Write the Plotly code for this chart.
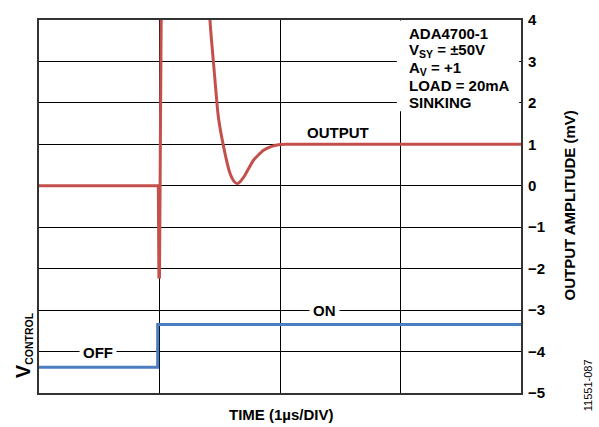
import plotly.graph_objects as go

# Output amplitude (mV) vs time (divisions of 1 µs)
spike_t = [0.0, 0.99, 0.995, 1.0, 1.015, 1.03]
spike_v = [0.0, 0.0, -2.2, -2.2, 4.5, 10.0]
ring_t = [1.03, 1.40, 1.419, 1.45, 1.488, 1.53, 1.585, 1.62, 1.646, 1.67, 1.71, 1.778, 1.86, 1.93, 1.986, 2.05, 2.5, 3.0, 3.5, 4.0]
ring_v = [10.0, 10.0, 4.0, 2.9, 1.67, 0.97, 0.3, 0.1, 0.05, 0.1, 0.26, 0.61, 0.85, 0.95, 0.99, 1.0, 1.0, 1.0, 1.0, 1.0]

# V_CONTROL trace (drawn in the same vertical units)
ctl_t = [0.0, 0.985, 0.985, 4.0]
ctl_v = [-4.38, -4.38, -3.35, -3.35]

y_ticks = [-5, -4, -3, -2, -1, 0, 1, 2, 3, 4]
x_grid = [0, 1, 2, 3, 4]

info_lines = ["ADA4700-1", "V<sub>SY</sub> = ±50V", "A<sub>V</sub> = +1", "LOAD = 20mA", "SINKING"]

FONT = "Liberation Sans, Arial, Helvetica, sans-serif"
RED = "#C4504C"
BLUE = "#4A7EC1"

W, H = 599, 427
ML, MR, MT, MB = 39, 78, 11, 34
PW, PH = W - ML - MR, H - MT - MB

fig = go.Figure()
fig.add_trace(go.Scatter(x=ctl_t, y=ctl_v, mode="lines",
                         line=dict(color=BLUE, width=3), hoverinfo="skip"))
fig.add_trace(go.Scatter(x=spike_t, y=spike_v, mode="lines",
                         line=dict(color=RED, width=3), hoverinfo="skip"))
fig.add_trace(go.Scatter(x=ring_t, y=ring_v, mode="lines",
                         line=dict(color=RED, width=3, shape="spline", smoothing=0.4),
                         hoverinfo="skip"))

# white box behind the info text
fig.add_shape(type="rect", xref="x", yref="y", x0=2.97, x1=3.985, y0=1.8, y1=3.985,
              fillcolor="white", line=dict(width=0), layer="between")

ys = [3.68, 3.27, 2.84, 2.43, 2.0]
for txt, yy in zip(info_lines, ys):
    fig.add_annotation(x=3.05, y=yy, xref="x", yref="y", text="<b>%s</b>" % txt,
                       showarrow=False, xanchor="left", yanchor="middle",
                       font=dict(family=FONT, size=15, color="black"))

for txt, xx, yy in [("OFF", 0.49, -4.02), ("ON", 2.37, -3.02)]:
    fig.add_annotation(x=xx, y=yy, xref="x", yref="y", text="<b>%s</b>" % txt,
                       showarrow=False, bgcolor="white", borderpad=3,
                       font=dict(family=FONT, size=15, color="black"))
fig.add_annotation(x=2.48, y=1.29, xref="x", yref="y", text="<b>OUTPUT</b>",
                   showarrow=False, font=dict(family=FONT, size=15, color="black"))


def px_ann(text, x, y, size=15, angle=0):
    fig.add_annotation(x=(x - ML) / PW, y=(H - MB - y) / PH, xref="paper", yref="paper",
                       xanchor="center", yanchor="middle", text=text, showarrow=False,
                       textangle=angle, font=dict(family=FONT, size=size, color="black"))


px_ann("<b>TIME (1µs/DIV)</b>", 281, 415)
px_ann("<b>OUTPUT AMPLITUDE (mV)</b>", 570, 201, angle=-90)
px_ann("<b><span style='font-size:20px'>V</span><sub>CONTROL</sub></b>", 23, 344, size=15, angle=-90)
px_ann("11551-087", 588, 385, size=11, angle=-90)

fig.update_layout(
    width=W, height=H,
    margin=dict(l=ML, r=MR, t=MT, b=MB),
    paper_bgcolor="white", plot_bgcolor="white",
    showlegend=False,
    font=dict(family=FONT, color="black"),
    xaxis=dict(range=[0, 4], tickvals=x_grid, showticklabels=False, showgrid=True,
               gridcolor="black", gridwidth=1, zeroline=False,
               showline=True, mirror=True, linecolor="#333333", linewidth=2, ticks=""),
    yaxis=dict(range=[-5, 4], tickvals=y_ticks, side="right", showgrid=True,
               gridcolor="black", gridwidth=1, zeroline=False,
               showline=True, mirror=True, linecolor="#333333", linewidth=2, ticks="",
               ticklabelstandoff=2,
               tickfont=dict(family=FONT, size=15, color="black", weight="bold")),
)

fig.write_html("out.html", config={"displayModeBar": False},
               post_script="document.body.style.margin='0px';")
